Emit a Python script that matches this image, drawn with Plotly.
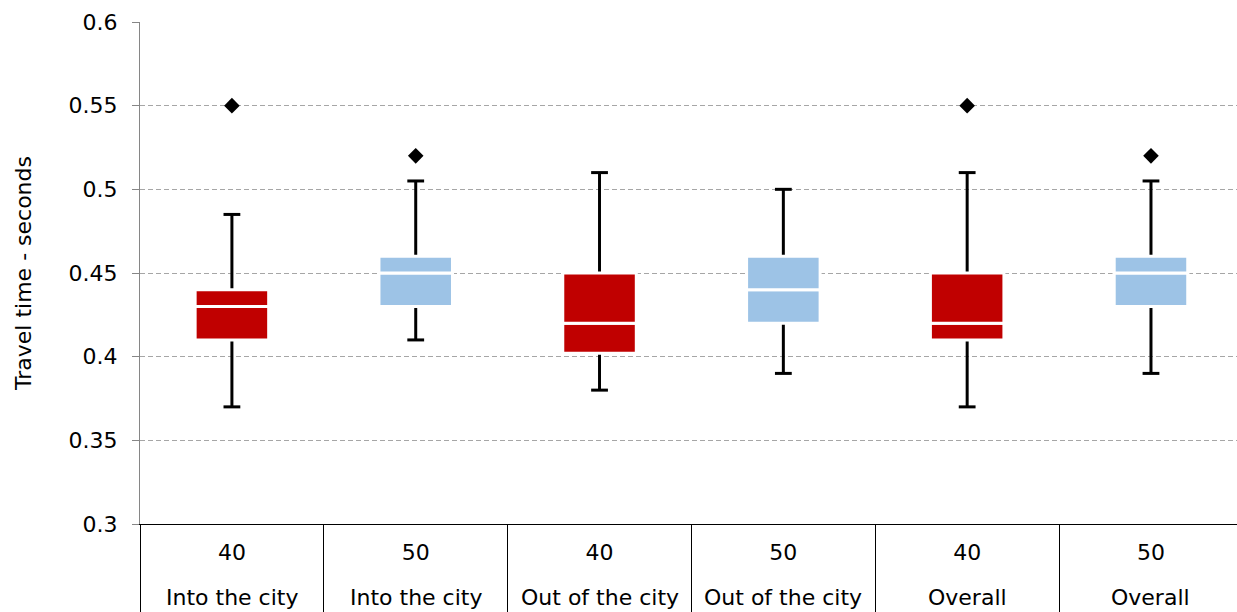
import plotly.graph_objects as go

# ---- data ----
groups = ["Into the city", "Into the city", "Out of the city", "Out of the city", "Overall", "Overall"]
speeds = ["40", "50", "40", "50", "40", "50"]
q1 = [0.41, 0.43, 0.402, 0.42, 0.41, 0.43]
median = [0.43, 0.45, 0.42, 0.44, 0.42, 0.45]
q3 = [0.44, 0.46, 0.45, 0.46, 0.45, 0.46]
whisker_low = [0.37, 0.41, 0.38, 0.39, 0.37, 0.39]
whisker_high = [0.485, 0.505, 0.51, 0.50, 0.51, 0.505]
outliers = [0.55, 0.52, None, None, 0.55, 0.52]

RED = "#C00000"
BLUE = "#9DC3E6"
FONT = "DejaVu Sans"

keys = [f"{s} {g}" for s, g in zip(speeds, groups)]
colors = [RED if s == "40" else BLUE for s in speeds]

fig = go.Figure()

# whiskers (drawn beneath boxes)
wx, wy = [], []
for k, lo, a, b, hi in zip(keys, whisker_low, q1, q3, whisker_high):
    wx += [k, k, None, k, k, None]
    wy += [b, hi, None, a, lo, None]
fig.add_trace(go.Scatter(x=wx, y=wy, mode="lines", line=dict(color="black", width=3),
                         hoverinfo="skip", showlegend=False))
# caps
fig.add_trace(go.Scatter(x=keys + keys, y=whisker_high + whisker_low, mode="markers",
                         marker=dict(symbol="line-ew", size=12, line=dict(color="black", width=3)),
                         showlegend=False))
# outliers
fig.add_trace(go.Scatter(x=keys, y=outliers, mode="markers",
                         marker=dict(symbol="diamond", size=12, color="black"),
                         showlegend=False))

# boxes (on overlay axis so they are drawn above the whiskers)
fig.add_trace(go.Bar(x=keys, base=q1, y=[m - a for m, a in zip(median, q1)], width=0.4,
                     marker=dict(color=colors, line=dict(color="white", width=3)),
                     xaxis="x2", yaxis="y", showlegend=False))
fig.add_trace(go.Bar(x=keys, base=median, y=[b - m for b, m in zip(q3, median)], width=0.4,
                     marker=dict(color=colors, line=dict(color="white", width=3)),
                     xaxis="x2", yaxis="y", showlegend=False))

xrange = [-0.5, 5.468]

# outer category labels
for k, g in zip(keys, groups):
    fig.add_annotation(x=k, xref="x", y=-0.1474, yref="paper", text=g, showarrow=False,
                       yanchor="middle", font=dict(family=FONT, size=22, color="black"))

fig.update_layout(
    width=1237, height=612,
    margin=dict(l=140, r=0, t=22, b=88),
    paper_bgcolor="white", plot_bgcolor="white",
    barmode="overlay",
    font=dict(family=FONT, size=22, color="black"),
    showlegend=False,
    xaxis=dict(type="category", categoryorder="array", categoryarray=keys,
               tickvals=keys, ticktext=speeds, range=xrange,
               ticks="", showgrid=False, showline=True, linecolor="black", linewidth=1,
               ticklabelstandoff=9, tickfont=dict(family=FONT, size=22, color="black")),
    xaxis2=dict(type="category", categoryorder="array", categoryarray=keys,
                overlaying="x", anchor="y", side="bottom", range=xrange,
                tickson="boundaries", ticks="outside", ticklen=88, tickcolor="black", tickwidth=1,
                showticklabels=False, showgrid=False, showline=False),
    yaxis=dict(range=[0.3, 0.6], dtick=0.05, tick0=0.3,
               showgrid=True, gridcolor="#A6A6A6", griddash="5px,3px", gridwidth=1,
               showline=True, linecolor="#868686", linewidth=1,
               ticks="outside", ticklen=7, tickcolor="#868686",
               ticklabelstandoff=10, zeroline=False,
               tickfont=dict(family=FONT, size=22, color="black"),
               title=dict(text="Travel time - seconds", standoff=30,
                          font=dict(family=FONT, size=22, color="black"))),
)

fig.write_html("out.html",
               config={"displayModeBar": False},
               post_script="document.body.style.margin='0';document.body.style.padding='0';"
                           "document.documentElement.style.overflow='hidden';"
                           "document.body.style.overflow='hidden';")
